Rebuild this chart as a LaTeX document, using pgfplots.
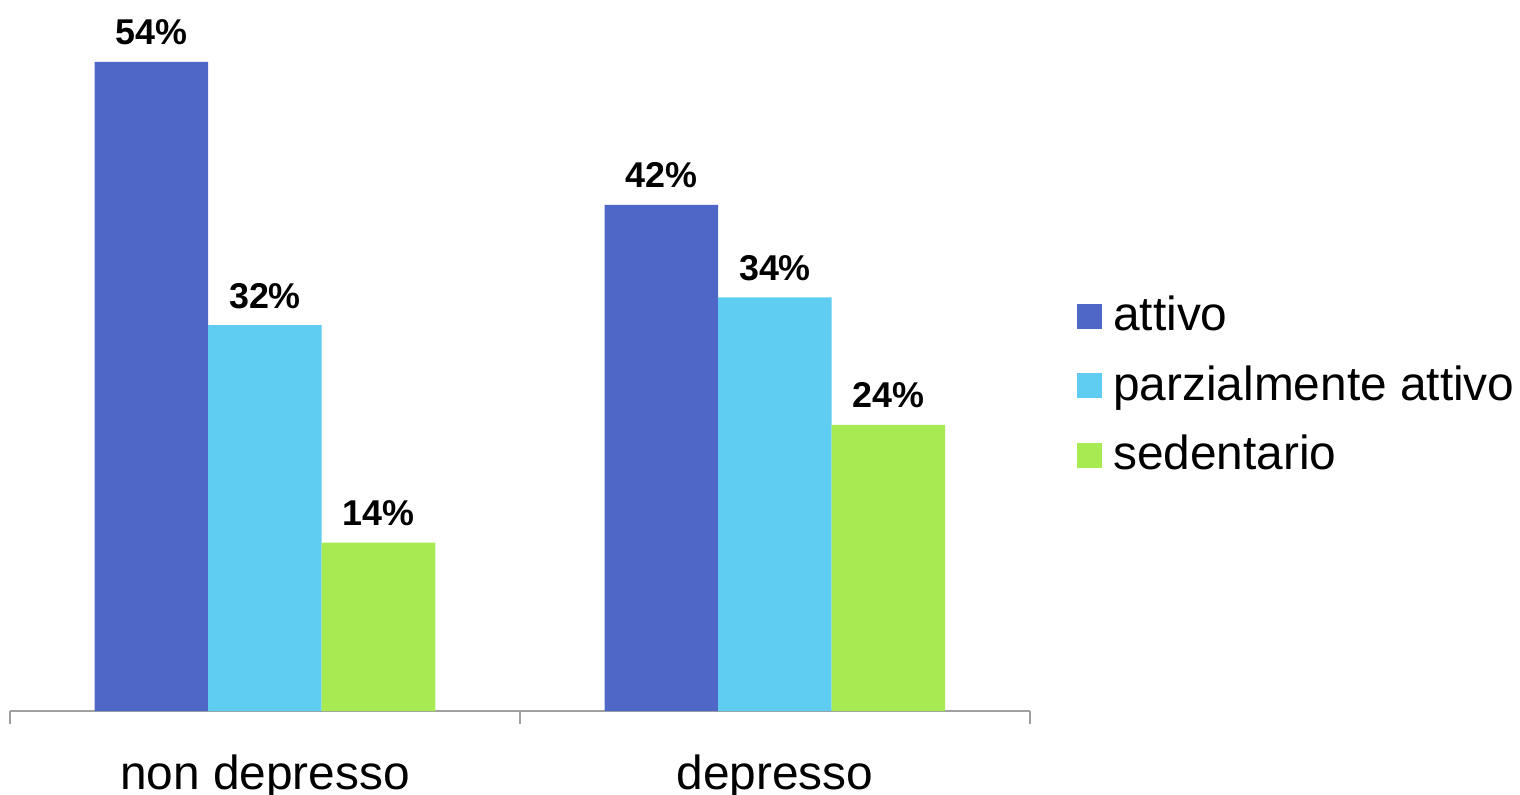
\documentclass[border=0pt]{standalone}
\usepackage{pgfplots}
\pgfplotsset{compat=1.18}
\usepackage{fontspec}
\setmainfont{Liberation Sans}
\definecolor{cblue}{HTML}{4F68C8}
\definecolor{ccyan}{HTML}{5FCDF2}
\definecolor{cgreen}{HTML}{A8EA52}
\definecolor{axgray}{HTML}{A0A0A0}
\begin{document}
\begin{tikzpicture}
\begin{axis}[
  name=ax,
  at={(0,0)}, anchor=south west,
  scale only axis,
  width=1020bp, height=711bp,
  xmin=-0.5, xmax=1.5,
  ymin=0, ymax=59.15,
  ybar=0pt, bar width=113.5bp,
  axis x line=bottom,
  axis y line=none,
  x axis line style={-, draw=axgray, line width=1.5bp},
  xtick={0,1},
  xticklabels={non depresso, depresso},
  major tick length=0pt,
  minor xtick={-0.5,0.5,1.5},
  minor tick length=13bp,
  tick align=outside,
  minor x tick style={draw=axgray, line width=1.5bp},
  xticklabel style={font=\fontsize{48}{51}\selectfont, anchor=base, yshift=-78bp, inner sep=0pt},
  /pgf/number format/assume math mode=true,
  /pgf/number format/fixed, /pgf/number format/precision=0,
  nodes near coords={\pgfmathprintnumber{\pgfplotspointmeta}\%},
  every node near coord/.append style={font=\fontsize{36}{40}\selectfont\bfseries, anchor=base, inner sep=0pt, yshift=17bp},
  legend style={draw=none, fill=none, at={(1.0461,0.454)}, anchor=west, inner sep=0pt,
    font=\fontsize{48}{51}\selectfont,
    nodes={inner sep=0pt, text height=34bp, text depth=10bp},
    row sep=25.5bp,
    /tikz/every odd column/.append style={column sep=11bp}},
  legend cell align=left,
  legend image code/.code={\fill[#1] (0bp,-10bp) rectangle (25bp,15bp);},
]
\addplot[fill=cblue, draw=none] coordinates {(0,54) (1,42.1)};
\addplot[fill=ccyan, draw=none] coordinates {(0,32.1) (1,34.4)};
\addplot[fill=cgreen, draw=none] coordinates {(0,14) (1,23.8)};
\legend{attivo, parzialmente attivo, sedentario}
\end{axis}
\pgfresetboundingbox
\path[use as bounding box] ([xshift=-10bp,yshift=-84bp]ax.south west) rectangle ([xshift=1510bp,yshift=711bp]ax.south west);
\end{tikzpicture}
\end{document}
